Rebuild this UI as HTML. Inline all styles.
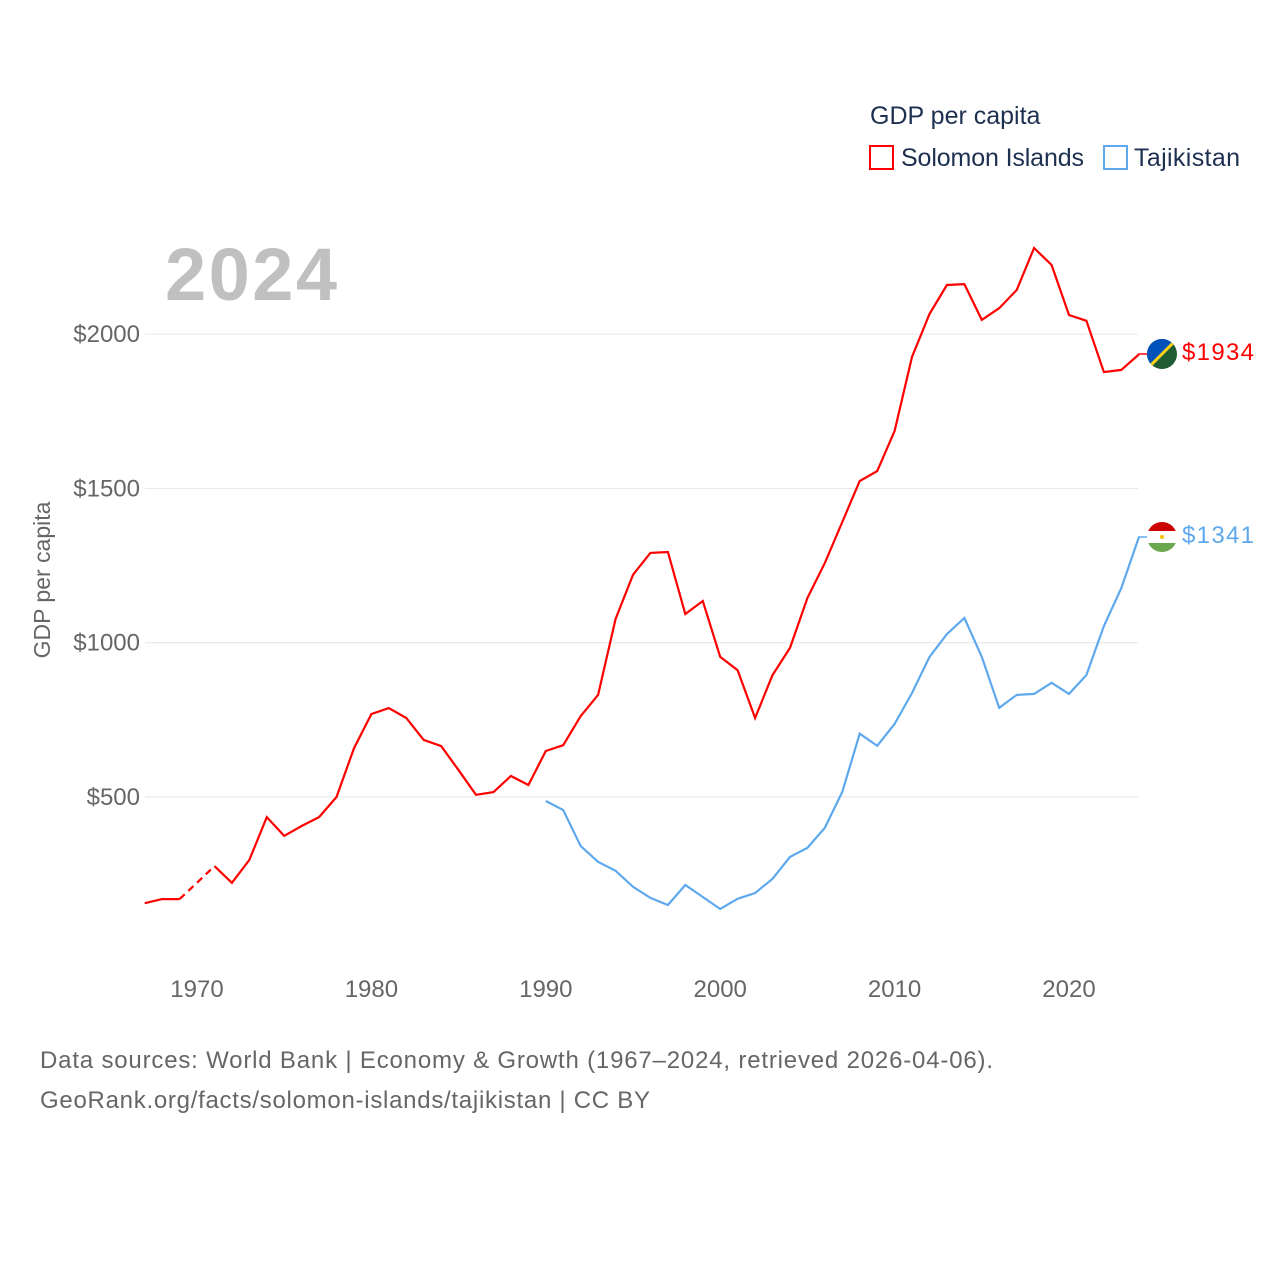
<!DOCTYPE html>
<html><head><meta charset="utf-8"><style>
body{margin:0;background:#fff;font-family:"Liberation Sans",sans-serif;}
svg text{font-family:"Liberation Sans",sans-serif;}
</style></head><body>
<svg id="chart" width="1280" height="1280" xmlns="http://www.w3.org/2000/svg">
<text x="870" y="124" font-size="25" fill="#1d3050">GDP per capita</text>
<g><rect x="870" y="146" width="23" height="23" fill="none" stroke="#ff0000" stroke-width="2"/><text x="901" y="166" font-size="25" fill="#1d3050" textLength="183">Solomon Islands</text></g>
<g><rect x="1104" y="146" width="23" height="23" fill="none" stroke="#5ea9ee" stroke-width="2"/><text x="1134" y="166" font-size="25" fill="#1d3050" textLength="106">Tajikistan</text></g>
<text x="165" y="300" font-size="74" font-weight="bold" fill="#c0c0c0" textLength="172">2024</text>
<text transform="translate(50,580) rotate(-90)" text-anchor="middle" font-size="23" fill="#666">GDP per capita</text>
<g id="grid"></g><g id="xt"></g><g id="series"></g>
<line x1="1138" y1="354" x2="1148" y2="354" stroke="#ff0000" stroke-width="1.5"/>
<line x1="1138" y1="537" x2="1148" y2="537" stroke="#5ea9ee" stroke-width="1.5"/>
<g><clipPath id="c1"><circle cx="1162" cy="354" r="15"/></clipPath><g clip-path="url(#c1)"><rect x="1146" y="338" width="32" height="32" fill="#215b33"/><polygon points="1146,338 1178,338 1146,370" fill="#0051ba"/><line x1="1146" y1="370" x2="1178" y2="338" stroke="#fcd116" stroke-width="3"/></g></g>
<g><clipPath id="c2"><circle cx="1162" cy="537" r="15"/></clipPath><g clip-path="url(#c2)"><rect x="1146" y="521" width="32" height="10" fill="#cc0000"/><rect x="1146" y="531" width="32" height="12" fill="#fff"/><rect x="1146" y="543" width="32" height="10" fill="#6aa84f"/><circle cx="1162" cy="537" r="2" fill="#f8c300"/></g></g>
<text x="1182" y="360" font-size="24" fill="#ff0000" textLength="72">$1934</text>
<text x="1182" y="543" font-size="24" fill="#5ea9ee" textLength="72">$1341</text>
<text x="40" y="1068" font-size="24" fill="#666" textLength="953">Data sources: World Bank | Economy &amp; Growth (1967–2024, retrieved 2026-04-06).</text>
<text x="40" y="1108" font-size="24" fill="#666" textLength="610">GeoRank.org/facts/solomon-islands/tajikistan | CC BY</text>
</svg>
<script>
const yTicks=[500,1000,1500,2000];
const xTicks=[1970,1980,1990,2000,2010,2020];
const solYears=[1967,1968,1969,1970,1971,1972,1973,1974,1975,1976,1977,1978,1979,1980,1981,1982,1983,1984,1985,1986,1987,1988,1989,1990,1991,1992,1993,1994,1995,1996,1997,1998,1999,2000,2001,2002,2003,2004,2005,2006,2007,2008,2009,2010,2011,2012,2013,2014,2015,2016,2017,2018,2019,2020,2021,2022,2023,2024];
const solValues=[156,169,169,222,276,222,296,435,374,406,435,500,658,769,788,756,685,665,587,507,516,568,539,649,668,762,831,1077,1220,1291,1294,1093,1135,954,911,756,895,983,1145,1258,1391,1524,1556,1686,1926,2065,2159,2162,2046,2084,2143,2279,2224,2062,2043,1877,1884,1934];
const tjkYears=[1990,1991,1992,1993,1994,1995,1996,1997,1998,1999,2000,2001,2002,2003,2004,2005,2006,2007,2008,2009,2010,2011,2012,2013,2014,2015,2016,2017,2018,2019,2020,2021,2022,2023,2024];
const tjkValues=[487,458,341,290,261,209,173,150,215,176,137,170,189,235,306,335,400,517,705,666,737,837,954,1028,1080,954,789,831,834,870,834,895,1054,1177,1341];
const NS="http://www.w3.org/2000/svg";
const X=y=>197+(y-1970)*17.44;
const Y=v=>951.3-v*154.3/500;
function mk(t,a,p){const e=document.createElementNS(NS,t);for(const k in a)e.setAttribute(k,a[k]);p.appendChild(e);return e;}
const grid=document.getElementById('grid');
yTicks.forEach(v=>{
 const l=mk('line',{x1:145,x2:1138,y1:Y(v),y2:Y(v),stroke:'#e6e6e6','stroke-width':1},grid);
 
 
 const t=mk('text',{x:140,y:Y(v)+8,'text-anchor':'end','font-size':24,fill:'#666'},grid);
 t.textContent='$'+v;
 
 
});
const xt=document.getElementById('xt');
xTicks.forEach(v=>{
 const t=mk('text',{x:X(v),y:997,'text-anchor':'middle','font-size':24,fill:'#666'},xt);
 t.textContent=v;
 
 
});
const s=document.getElementById('series');
function path(ys,vs,from,to){let d='';for(let i=from;i<=to;i++)d+=(i==from?'M':'L')+X(ys[i]).toFixed(1)+','+Y(vs[i]).toFixed(1);return d;}
const i69=solYears.indexOf(1969),i71=solYears.indexOf(1971);
let p=mk('path',{d:path(solYears,solValues,0,i69),fill:'none',stroke:'#ff0000','stroke-width':2.2},s);


p=mk('path',{d:path(solYears,solValues,i69,i71),fill:'none',stroke:'#ff0000','stroke-width':2.2,'stroke-dasharray':'7,5'},s);


p=mk('path',{d:path(solYears,solValues,i71,solYears.length-1),fill:'none',stroke:'#ff0000','stroke-width':2.2},s);


p=mk('path',{d:path(tjkYears,tjkValues,0,tjkYears.length-1),fill:'none',stroke:'#5ea9ee','stroke-width':2.2},s);


</script>
</body></html>
